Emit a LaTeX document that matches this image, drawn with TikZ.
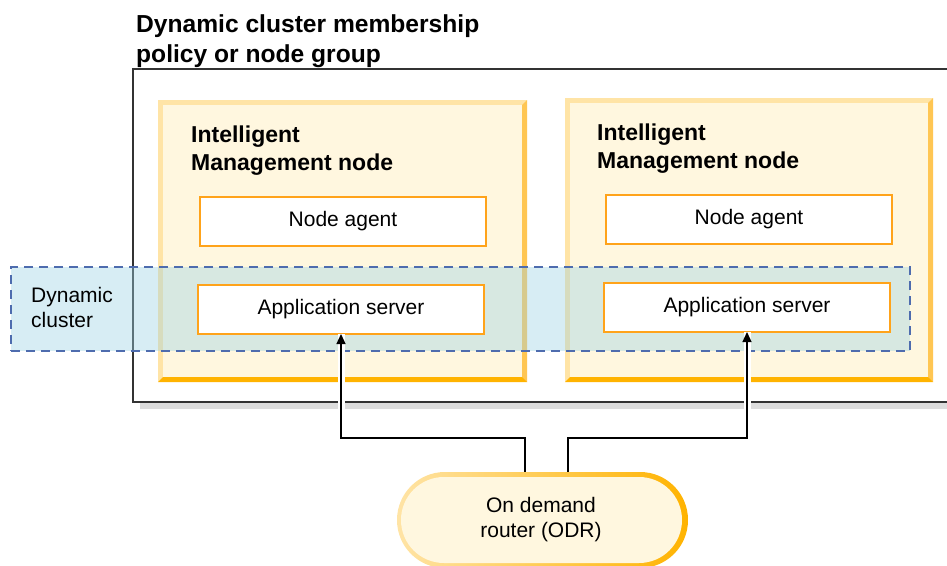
\documentclass[tikz,border=0pt]{standalone}
\usepackage{fontspec}
\setmainfont{Liberation Sans}
\usetikzlibrary{arrows.meta}
\definecolor{cream}{HTML}{FFF7DF}
\definecolor{lightedge}{HTML}{FFE4A6}
\definecolor{rightedge}{HTML}{FFC653}
\definecolor{bottomedge}{HTML}{FFB300}
\definecolor{boxorange}{HTML}{FFA31A}
\definecolor{bandfill}{RGB}{155,210,228}
\definecolor{banddash}{HTML}{4E6CAE}
\definecolor{outerline}{HTML}{333333}
\definecolor{shadowgray}{HTML}{DDDDDD}
\newcommand\imbevel[1]{%
  \fill[lightedge] (#1.north west) rectangle (#1.south east);
  \fill[rightedge] (#1.north east) -- (#1.south east) -- ([shift={(-5,-5)}]#1.south east) -- ([shift={(-5,5)}]#1.north east) -- cycle;
  \fill[bottomedge] (#1.south west) -- (#1.south east) -- ([shift={(-5,-5)}]#1.south east) -- ([shift={(5,-5)}]#1.south west) -- cycle;
  \fill[cream] ([shift={(5,5)}]#1.north west) rectangle ([shift={(-5,-5)}]#1.south east);
}
\begin{document}
\begin{tikzpicture}[x=1pt,y=-1pt,
  frame/.style={rectangle,inner sep=0pt,outer sep=0pt,anchor=north west},
  imnode/.style={frame,minimum width=369pt,minimum height=282pt},
  innerbox/.style={frame,draw=boxorange,line width=1.8pt,fill=white,minimum width=286pt,minimum height=49pt,
    font=\fontsize{21}{25}\selectfont},
  bandbox/.style={frame,draw=banddash,line width=1.3pt,dash pattern=on 9pt off 6pt,fill=bandfill,fill opacity=0.4,
    minimum width=899pt,minimum height=84pt},
  boldlabel/.style={inner sep=0pt,anchor=base west,align=left,font=\fontsize{23}{28}\selectfont\bfseries},
  plainlabel/.style={inner sep=0pt,align=center,font=\fontsize{21}{25}\selectfont},
  halo/.style={white,line width=7pt},
  conn/.style={black,line width=1.3pt,-{Triangle[length=10pt,width=9pt]}}
]
\useasboundingbox (0,0) rectangle (947,565);

% outer group box with shadow
\node[frame,minimum width=830pt,minimum height=333pt] (group) at (133,69) {};
\fill[shadowgray] ([shift={(7,0)}]group.south west) rectangle ([shift={(0,7)}]group.south east);
\draw[outerline,line width=1.6pt,fill=white] (group.north west) rectangle (group.south east);
\node[boldlabel,font=\fontsize{24.6}{29.5}\selectfont\bfseries] (title) at (136,62) {Dynamic cluster membership\\policy or node group};

% intelligent management nodes
\node[imnode] (imn1) at (158,100) {};
\imbevel{imn1}
\node[imnode,minimum width=368pt,minimum height=284pt] (imn2) at (565,98) {};
\imbevel{imn2}
\node[boldlabel] (imt1) at (191,170) {Intelligent\\Management node};
\node[boldlabel] (imt2) at (597,168) {Intelligent\\Management node};

% node agents
\node[innerbox] (na1) at (200,197) {Node agent};
\node[innerbox] (na2) at (606,195) {Node agent};

% dynamic cluster band
\node[bandbox] (band) at (11,267) {};
\node[plainlabel,align=left,anchor=base west] (bandlabel) at (31,327) {Dynamic\\cluster};

% application servers
\node[innerbox] (as1) at (198,285) {Application server};
\node[innerbox] (as2) at (604,283) {Application server};

% on demand router
\node[frame,minimum width=291pt,minimum height=96pt] (odr) at (397,472) {};
\coordinate (j1) at (525,438);
\coordinate (j2) at (568,438);
\draw[halo] (odr.north -| j1) -- (j1) -| (as1.south);
\draw[halo] (odr.north -| j2) -- (j2) -| (as2.south);
\draw[conn] (odr.north -| j1) -- (j1) -| (as1.south);
\draw[conn] (odr.north -| j2) -- (j2) -| (as2.south);
\shade[left color=lightedge,right color=bottomedge,rounded corners=47.9pt] (odr.north west) rectangle (odr.south east);
\fill[cream,rounded corners=43pt] ([shift={(4,5)}]odr.north west) rectangle ([shift={(-6,-5)}]odr.south east);
\node[plainlabel] (odrlabel) at (541,520) {On demand\\router (ODR)};
\end{tikzpicture}
\end{document}
